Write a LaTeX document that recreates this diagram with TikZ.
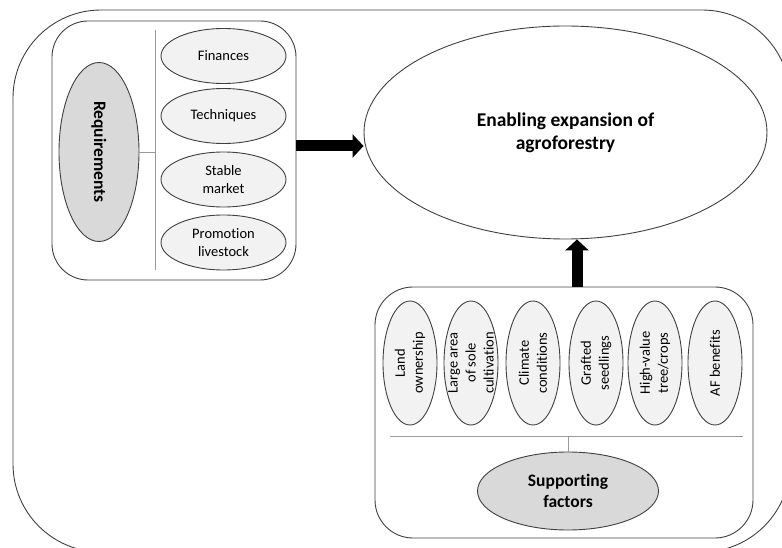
\documentclass[tikz,border=0pt]{standalone}
\usepackage{fontspec}
\setmainfont{Carlito}[Ligatures=NoCommon]
\usetikzlibrary{arrows.meta,shapes.geometric}
\definecolor{edgecol}{HTML}{404040}
\definecolor{lightfill}{HTML}{F2F2F2}
\definecolor{darkfill}{HTML}{D9D9D9}
\definecolor{dividercol}{HTML}{9A9A9A}
\newcommand\itemfont{\fontsize{14.5}{18}\selectfont}
\newcommand\keyfont{\fontsize{17.5}{21}\selectfont\bfseries}
\newcommand\titlefont{\fontsize{19.5}{23}\selectfont\bfseries}
\begin{document}
\begin{tikzpicture}[x=1pt,y=-1pt,line width=0.9pt,
  boxframe/.style={draw=edgecol, inner sep=0pt, rounded corners=#1},
  item/.style={ellipse, draw=edgecol, fill=lightfill, inner sep=0pt,
    minimum width=125pt, minimum height=55pt, align=center, font=\itemfont},
  factor/.style={ellipse, draw=edgecol, fill=lightfill, inner sep=0pt, rotate=90,
    minimum width=124pt, minimum height=54pt, align=center, font=\itemfont},
  keynode/.style={ellipse, draw=edgecol, fill=darkfill, inner sep=0pt,
    align=center, font=\keyfont},
  divider/.style={draw=dividercol, line width=0.8pt},
  blockarrow/.style={draw=black, line width=11pt,
    -{Triangle[width=23pt,length=11pt]}}]
\useasboundingbox (0,0) rectangle (782,548);
\begin{scope}
  \clip (0,0) rectangle (782,548);
  \node[boxframe=88pt, minimum width=777pt, minimum height=542pt] (outer) at (401.5,281) {};
\end{scope}

% requirements group
\node[boxframe=36pt, minimum width=244pt, minimum height=259pt] (reqbox) at (174,150.5) {};
\coordinate (vtop) at (155,30);
\coordinate (vbot) at (155,270);
\coordinate (vmid) at (155,152);
\draw[divider] (vtop) -- (vbot);
\node[keynode, rotate=-90, minimum width=179pt, minimum height=80pt] (req) at (99,152) {Requirements};
\draw[divider] (req) -- (vmid);
\node[item] (fin) at (223.5,56) {Finances};
\node[item] (tech) at (223.5,116) {Techniques};
\node[item] (mkt) at (223.5,179.5) {Stable\\market};
\node[item] (promo) at (223.5,242.5) {Promotion\\livestock};

% goal
\node[ellipse, draw=edgecol, fill=white, inner sep=0pt, minimum width=403pt,
  minimum height=213pt, align=center, font=\titlefont] (goal) at (565.5,132.5)
  {Enabling expansion of\\agroforestry};

% supporting group
\node[boxframe=38pt, minimum width=378pt, minimum height=251pt] (supbox) at (564,412.5) {};
\node[factor] (f1) at (410,363) {Land\\ownership};
\node[factor, label={[rotate=90, align=center, font=\itemfont]center:Large area\\of sole\\cultivation}] (f2) at (471,363) {};
\node[factor] (f3) at (533,363) {Climate\\conditions};
\node[factor] (f4) at (596,363) {Grafted\\seedlings};
\node[factor] (f5) at (655,363) {High-value\\tree/crops};
\node[factor] (f6) at (715,363) {AF benefits};
\coordinate (hl) at (390,436);
\coordinate (hr) at (743,436);
\coordinate (hm) at (568,436);
\draw[divider] (hl) -- (hr);
\node[keynode, minimum width=181pt, minimum height=78pt] (sup) at (568,491) {Supporting\\factors};
\draw[divider] (hm) -- (sup);

% arrows
\coordinate (arrstart) at (296,146);
\draw[blockarrow] (arrstart) -- (arrstart -| goal.west);
\coordinate (upbase) at (577,287);
\draw[blockarrow] (upbase) -- (upbase |- goal.south);
\end{tikzpicture}
\end{document}
